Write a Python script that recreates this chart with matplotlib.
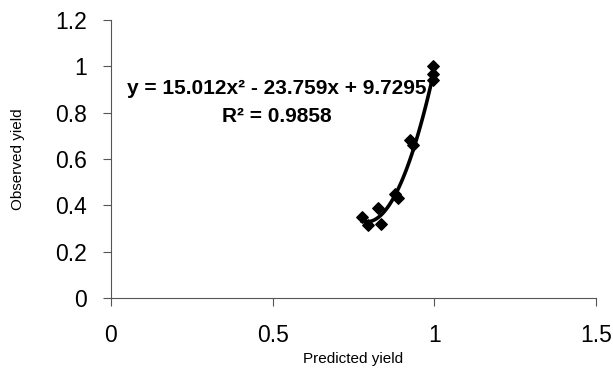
import numpy as np
import matplotlib
matplotlib.use("Agg")
import matplotlib.pyplot as plt

plt.rcParams['font.family'] = ['Liberation Sans', 'DejaVu Sans']

# observed vs predicted yield
predicted = [0.777, 0.796, 0.827, 0.836, 0.879, 0.889, 0.926, 0.935, 0.997, 0.997, 0.997]
observed = [0.35, 0.315, 0.39, 0.32, 0.45, 0.43, 0.68, 0.66, 1.0, 0.965, 0.94]

# excel polynomial trendline coefficients
coef = [15.012, -23.759, 9.7295]
eq_line = "y = 15.012x\u00b2 - 23.759x + 9.7295"
r2_line = "R\u00b2 = 0.9858"

fig = plt.figure(figsize=(6.13, 3.74), dpi=100)
ax = fig.add_axes([0.181, 0.203, 0.791, 0.744])

xs = np.linspace(min(predicted), max(predicted), 100)
ax.plot(xs, np.polyval(coef, xs), color='black', lw=2.6)
ax.scatter(predicted, observed, marker='D', s=34, color='black', zorder=3)

ax.text(0.513, 0.902, eq_line, ha='center', va='center', fontsize=15, fontweight='bold')
ax.text(0.513, 0.785, r2_line, ha='center', va='center', fontsize=15, fontweight='bold')

ax.set_xlim(0, 1.5)
ax.set_ylim(0, 1.2)
ax.set_xticks([0, 0.5, 1, 1.5])
ax.set_xticklabels(['0', '0.5', '1', '1.5'])
ax.set_yticks([0, 0.2, 0.4, 0.6, 0.8, 1, 1.2])
ax.set_yticklabels(['0', '0.2', '0.4', '0.6', '0.8', '1', '1.2'])
ax.tick_params(labelsize=16.5, length=6, color='#555555')
ax.tick_params(axis='x', pad=13)
ax.tick_params(axis='y', pad=11)
for s in ['top', 'right']:
    ax.spines[s].set_visible(False)
for s in ['left', 'bottom']:
    ax.spines[s].set_color('#555555')

ax.set_xlabel('Predicted yield', fontsize=11, labelpad=3)
ax.set_ylabel('Observed yield', fontsize=11, labelpad=22)

fig.savefig('out.png', dpi=100)
